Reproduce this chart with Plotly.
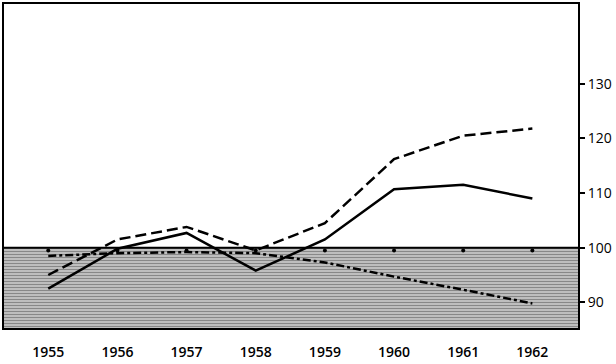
import plotly.graph_objects as go

years = [1955, 1956, 1957, 1958, 1959, 1960, 1961, 1962]
solid = [92.5, 99.8, 102.7, 95.8, 101.5, 110.7, 111.5, 109.0]
dashed = [95.0, 101.5, 103.8, 99.5, 104.5, 116.2, 120.5, 121.8]
falling = [98.5, 99.0, 99.2, 99.0, 97.3, 94.7, 92.3, 89.8]
dotted = [99.5, 99.5, 99.5, 99.5, 99.5, 99.5, 99.5, 99.5]
y_ticks = [90, 100, 110, 120, 130]
base_level = 100
x_range = [1954.36, 1962.66]
y_range = [85.3, 144.6]

fig = go.Figure()

# hatched area below 100
fig.add_trace(go.Scatter(
    x=[x_range[0], x_range[1], x_range[1], x_range[0], x_range[0]],
    y=[base_level, base_level, y_range[0], y_range[0], base_level],
    fill="toself", mode="lines",
    line=dict(color="black", width=0),
    fillcolor="rgba(255,255,255,0)",
    fillpattern=dict(shape="-", size=3, solidity=0.7, fgcolor="#111", bgcolor="white"),
    hoverinfo="skip", showlegend=False))
fig.add_trace(go.Scatter(x=x_range, y=[base_level, base_level], mode="lines",
                         line=dict(color="black", width=2), showlegend=False))

fig.add_trace(go.Scatter(x=years, y=dotted, mode="markers",
                         marker=dict(color="black", size=4), showlegend=False))
fig.add_trace(go.Scatter(x=years, y=falling, mode="lines",
                         line=dict(color="black", width=2.5, dash="8px,3px,3px,3px"), showlegend=False))
fig.add_trace(go.Scatter(x=years, y=dashed, mode="lines",
                         line=dict(color="black", width=2.5, dash="11px,5px"), showlegend=False))
fig.add_trace(go.Scatter(x=years, y=solid, mode="lines",
                         line=dict(color="black", width=2.5), showlegend=False))

fig.update_layout(
    width=616, height=364,
    margin=dict(l=3, r=38, t=2, b=36),
    plot_bgcolor="white", paper_bgcolor="white",
    font=dict(family="Open Sans, DejaVu Sans, sans-serif", color="black", size=14),
    xaxis=dict(range=x_range, tickmode="array", tickvals=years,
               ticktext=[str(y) for y in years],
               showgrid=False, zeroline=False, ticks="", ticklabelstandoff=10,
               showline=True, linecolor="black", linewidth=2, mirror=True,
               tickfont=dict(size=14, weight=600)),
    yaxis=dict(range=y_range, side="right", tickmode="array", tickvals=y_ticks,
               showgrid=False, zeroline=False, ticks="outside", ticklen=5,
               tickwidth=2, tickcolor="black",
               showline=True, linecolor="black", linewidth=2, mirror=True,
               tickfont=dict(size=14)),
)

fig.write_html("out.html", config={"displayModeBar": False},
               post_script="document.body.style.margin='0';")
